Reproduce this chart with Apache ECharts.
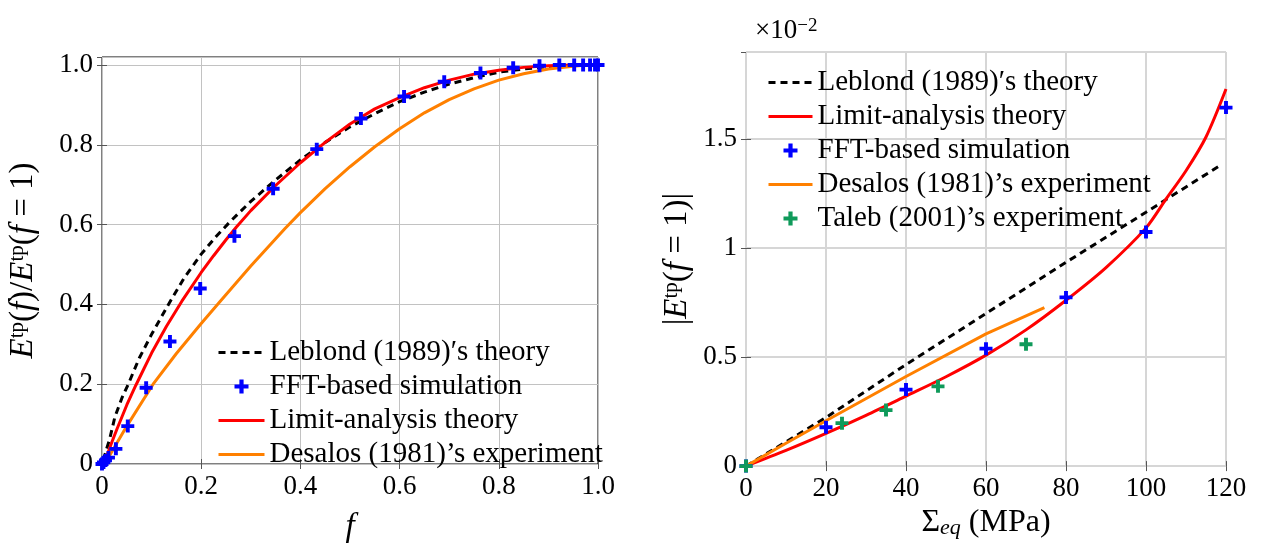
<!DOCTYPE html>
<html>
<head>
<meta charset="utf-8">
<script src="https://cdn.jsdelivr.net/npm/echarts@6/dist/echarts.min.js"></script>
<style>
  html, body { margin: 0; padding: 0; background: #fff; }
  #chart { width: 1264px; height: 549px; }
</style>
</head>
<body>
<div id="chart"></div>
<script>
// ---- left panel: E^tp(f)/E^tp(f=1) against f ----
const leblondF = [0.003, 0.009, 0.015, 0.026, 0.04, 0.053, 0.075, 0.1, 0.134, 0.165, 0.2, 0.23, 0.255, 0.275, 0.3, 0.35, 0.4, 0.45, 0.5, 0.55, 0.6, 0.65, 0.7, 0.75, 0.8, 0.85, 0.9, 0.95, 1.0]
const leblondV = [0.01, 0.037, 0.06, 0.118, 0.165, 0.2, 0.265, 0.325, 0.4, 0.465, 0.526, 0.57, 0.603, 0.628, 0.658, 0.712, 0.762, 0.806, 0.845, 0.878, 0.908, 0.932, 0.952, 0.968, 0.982, 0.99, 0.996, 0.999, 1.0]

const limitF = [0.006, 0.02, 0.03, 0.05, 0.0685, 0.085, 0.1, 0.13, 0.161, 0.2, 0.225, 0.25, 0.271, 0.3, 0.35, 0.4, 0.45, 0.5, 0.55, 0.6, 0.65, 0.7, 0.75, 0.8, 0.85, 0.9, 0.95, 1.0]
const limitV = [0.008, 0.055, 0.087, 0.148, 0.198, 0.24, 0.278, 0.345, 0.408, 0.48, 0.522, 0.562, 0.594, 0.635, 0.698, 0.755, 0.806, 0.852, 0.89, 0.918, 0.943, 0.962, 0.977, 0.987, 0.994, 0.998, 1.0, 1.0]

const desalosF = [0.013, 0.05, 0.103, 0.15, 0.2, 0.235, 0.3, 0.369, 0.4, 0.45, 0.5, 0.55, 0.6, 0.65, 0.7, 0.75, 0.8, 0.85, 0.9, 0.95, 0.977]
const desalosV = [0.016, 0.095, 0.2, 0.277, 0.352, 0.403, 0.496, 0.59, 0.63, 0.69, 0.745, 0.795, 0.84, 0.88, 0.913, 0.94, 0.962, 0.978, 0.99, 0.997, 1.0]

const fftF = [0, 0.003, 0.007, 0.013, 0.028, 0.052, 0.089, 0.137, 0.198, 0.267, 0.345, 0.433, 0.522, 0.609, 0.69, 0.763, 0.829, 0.882, 0.922, 0.952, 0.97, 0.984, 0.994, 1.0]
const fftV = [0, 0.004, 0.009, 0.016, 0.038, 0.095, 0.191, 0.307, 0.44, 0.571, 0.69, 0.789, 0.866, 0.921, 0.958, 0.98, 0.993, 0.998, 1.0, 1.0, 1.0, 1.0, 1.0, 1.0]

// ---- right panel: |E^tp(f=1)| (x1e-2) against Sigma_eq (MPa) ----
const sigLeblond = [0, 20, 40, 60, 80, 100, 119]
const valLeblond = [0, 0.223, 0.466, 0.70, 0.935, 1.165, 1.385]

const sigLimit = [0, 10, 20, 30, 40, 50, 60, 70, 80, 90, 100, 105, 110, 115, 120]
const valLimit = [0, 0.072, 0.15, 0.233, 0.321, 0.41, 0.509, 0.625, 0.761, 0.911, 1.093, 1.225, 1.355, 1.51, 1.73]

const sigDesalos = [0, 10, 20, 40, 60, 74.6]
const valDesalos = [0, 0.105, 0.208, 0.411, 0.607, 0.727]

const sigFft = [0, 20, 40, 60, 80, 100, 120]
const valFft = [0, 0.178, 0.351, 0.539, 0.774, 1.074, 1.645]

const sigTaleb = [0, 24, 35, 48, 70]
const valTaleb = [0, 0.197, 0.257, 0.366, 0.559]

const FONT = 'Liberation Serif'
const PLUS = 'path://M7,0H13V7H20V13H13V20H7V13H0V7H7Z'
const names = {
  leblond: 'Leblond (1989)\u2032s theory',
  fft: 'FFT-based simulation',
  limit: 'Limit-analysis theory',
  desalos: 'Desalos (1981)\u2019s experiment',
  taleb: 'Taleb (2001)\u2019s experiment'
}

const zip = (xs, ys) => xs.map((x, i) => [x, ys[i]])

const richMath = {
  i: { fontFamily: FONT, fontSize: 33, fontStyle: 'italic', color: '#000', lineHeight: 33, padding: [6, 0, 0, 0], verticalAlign: 'bottom' },
  n: { fontFamily: FONT, fontSize: 33, color: '#000', lineHeight: 33, padding: [6, 0, 0, 0], verticalAlign: 'bottom' },
  s: { fontFamily: FONT, fontSize: 21, color: '#000', lineHeight: 21, verticalAlign: 'top' }
}

function valueAxis(gridIndex, min, max, interval, fmt, extra) {
  return Object.assign({
    type: 'value',
    gridIndex: gridIndex,
    min: min,
    max: max,
    interval: interval,
    axisLine: { show: false },
    axisTick: { show: true, inside: true, length: 5, lineStyle: { color: '#555' } },
    axisLabel: { fontFamily: FONT, fontSize: 27, color: '#000', margin: 9, formatter: fmt },
    splitLine: { show: true, lineStyle: { color: '#c2c2c2', width: 1 } }
  }, extra || {})
}

function mirrorAxis(gridIndex, pos, min, max, interval) {
  return {
    type: 'value', gridIndex: gridIndex, position: pos, min: min, max: max, interval: interval,
    axisLine: { show: false },
    axisTick: { show: true, inside: true, length: 5, lineStyle: { color: '#555' } },
    axisLabel: { show: false },
    splitLine: { show: false }
  }
}

const fmtLeft = v => (v === 0 ? '0' : v.toFixed(1))
const fmtPlain = v => String(v)

// line entries in the legends: hide the default circle, keep the stroke
const noDot = { color: 'rgba(0,0,0,0)', borderWidth: 0, opacity: 0 }
const lineItem = name => ({ name: name, itemStyle: noDot })

const chart = echarts.init(document.getElementById('chart'))

chart.setOption({
  animation: false,
  backgroundColor: '#fff',
  grid: [
    { left: 102, right: 666, top: 57, bottom: 74, show: true, borderColor: '#000', borderWidth: 1 },
    { left: 746, right: 38, top: 52, bottom: 76, show: true, borderColor: '#333', borderWidth: 1 }
  ],
  xAxis: [
    valueAxis(0, 0, 1, 0.2, fmtLeft, {
      name: '{i|f}', nameLocation: 'middle', nameGap: 47,
      nameTextStyle: { rich: { i: { fontFamily: FONT, fontSize: 33, fontStyle: 'italic', color: '#000' } } }
    }),
    valueAxis(1, 0, 120, 20, fmtPlain, {
      name: '{n|\u03a3}{sub|eq}{n| (MPa)}', nameLocation: 'middle', nameGap: 34,
      nameTextStyle: {
        rich: {
          n: { fontFamily: FONT, fontSize: 32, color: '#000', lineHeight: 32, padding: [0, 0, 5, 0], verticalAlign: 'top' },
          sub: { fontFamily: FONT, fontSize: 22, fontStyle: 'italic', color: '#000', lineHeight: 22, verticalAlign: 'bottom' }
        }
      },
      splitLine: { show: true, lineStyle: { color: '#d6d6d6', width: 2 } }
    }),
    mirrorAxis(0, 'top', 0, 1, 0.2),
    mirrorAxis(1, 'top', 0, 120, 20)
  ],
  yAxis: [
    valueAxis(0, 0, 1.02, 0.2, fmtLeft, {
      axisLabel: { fontFamily: FONT, fontSize: 27, color: '#000', margin: 9, formatter: fmtLeft, showMaxLabel: false },
      name: '{i|E}{s|tp}{n|(}{i|f}{n|)/}{i|E}{s|tp}{n|(}{i|f}{n| = 1)}',
      nameLocation: 'middle', nameRotate: 90, nameGap: 62,
      nameTextStyle: { rich: richMath }
    }),
    valueAxis(1, 0, 1.9, 0.5, fmtPlain, {
      axisLabel: { fontFamily: FONT, fontSize: 27, color: '#000', margin: 9, formatter: fmtPlain, showMaxLabel: false },
      name: '{n||}{i|E}{s|tp}{n|(}{i|f}{n| = 1)|}',
      nameLocation: 'middle', nameRotate: 90, nameGap: 52,
      nameTextStyle: { rich: richMath },
      splitLine: { show: true, lineStyle: { color: '#d6d6d6', width: 2 } }
    }),
    mirrorAxis(0, 'right', 0, 1.02, 0.2),
    mirrorAxis(1, 'right', 0, 1.9, 0.5)
  ],
  legend: [
    {
      orient: 'vertical', left: 212, top: 333, itemWidth: 46, itemHeight: 14, itemGap: 5,
      lineStyle: { width: 3 },
      textStyle: { fontFamily: FONT, fontSize: 29, color: '#000', lineHeight: 29 },
      data: [lineItem(names.leblond), names.fft, lineItem(names.limit), lineItem(names.desalos)]
    },
    {
      orient: 'vertical', left: 762, top: 63, itemWidth: 44, itemHeight: 14, itemGap: 5,
      lineStyle: { width: 3 },
      textStyle: { fontFamily: FONT, fontSize: 29, color: '#000', lineHeight: 29 },
      data: [lineItem(names.leblond), lineItem(names.limit), names.fft, lineItem(names.desalos), names.taleb]
    }
  ],
  graphic: [
    {
      type: 'text', left: 755, top: 12,
      style: {
        text: '{a|\u00d710}{s|\u22122}',
        rich: {
          a: { fontFamily: FONT, fontSize: 27, fill: '#000', lineHeight: 27, padding: [5, 0, 0, 0], verticalAlign: 'bottom' },
          s: { fontFamily: FONT, fontSize: 19, fill: '#000', lineHeight: 19, verticalAlign: 'top' }
        }
      }
    }
  ],
  series: [
    {
      name: names.leblond, type: 'line', xAxisIndex: 0, yAxisIndex: 0, data: zip(leblondF, leblondV),
      symbol: 'none', z: 2,
      lineStyle: { color: '#000', width: 3, type: [7, 5] }, itemStyle: { color: '#000' }
    },
    {
      name: names.limit, type: 'line', xAxisIndex: 0, yAxisIndex: 0, data: zip(limitF, limitV),
      symbol: 'none', z: 3,
      lineStyle: { color: '#ff0000', width: 3 }, itemStyle: { color: '#ff0000' }
    },
    {
      name: names.desalos, type: 'line', xAxisIndex: 0, yAxisIndex: 0, data: zip(desalosF, desalosV),
      symbol: 'none', z: 3,
      lineStyle: { color: '#ff8000', width: 3 }, itemStyle: { color: '#ff8000' }
    },
    {
      name: names.fft, type: 'scatter', xAxisIndex: 0, yAxisIndex: 0, data: zip(fftF, fftV),
      symbol: PLUS, symbolSize: 13, symbolKeepAspect: true, z: 5,
      itemStyle: { color: '#0000ff', opacity: 1 }
    },
    {
      name: names.leblond, type: 'line', xAxisIndex: 1, yAxisIndex: 1, data: zip(sigLeblond, valLeblond),
      symbol: 'none', z: 2,
      lineStyle: { color: '#000', width: 3, type: [7, 5] }, itemStyle: { color: '#000' }
    },
    {
      name: names.limit, type: 'line', xAxisIndex: 1, yAxisIndex: 1, data: zip(sigLimit, valLimit),
      smooth: 0.3, symbol: 'none', z: 3,
      lineStyle: { color: '#ff0000', width: 3 }, itemStyle: { color: '#ff0000' }
    },
    {
      name: names.desalos, type: 'line', xAxisIndex: 1, yAxisIndex: 1, data: zip(sigDesalos, valDesalos),
      symbol: 'none', z: 3,
      lineStyle: { color: '#ff8000', width: 3 }, itemStyle: { color: '#ff8000' }
    },
    {
      name: names.fft, type: 'scatter', xAxisIndex: 1, yAxisIndex: 1, data: zip(sigFft, valFft),
      symbol: PLUS, symbolSize: 13, symbolKeepAspect: true, z: 5,
      itemStyle: { color: '#0000ff', opacity: 1 }
    },
    {
      name: names.taleb, type: 'scatter', xAxisIndex: 1, yAxisIndex: 1, data: zip(sigTaleb, valTaleb),
      symbol: PLUS, symbolSize: 13, symbolKeepAspect: true, z: 5,
      itemStyle: { color: '#0f9a5a', opacity: 1 }
    }
  ]
})
</script>
</body>
</html>
